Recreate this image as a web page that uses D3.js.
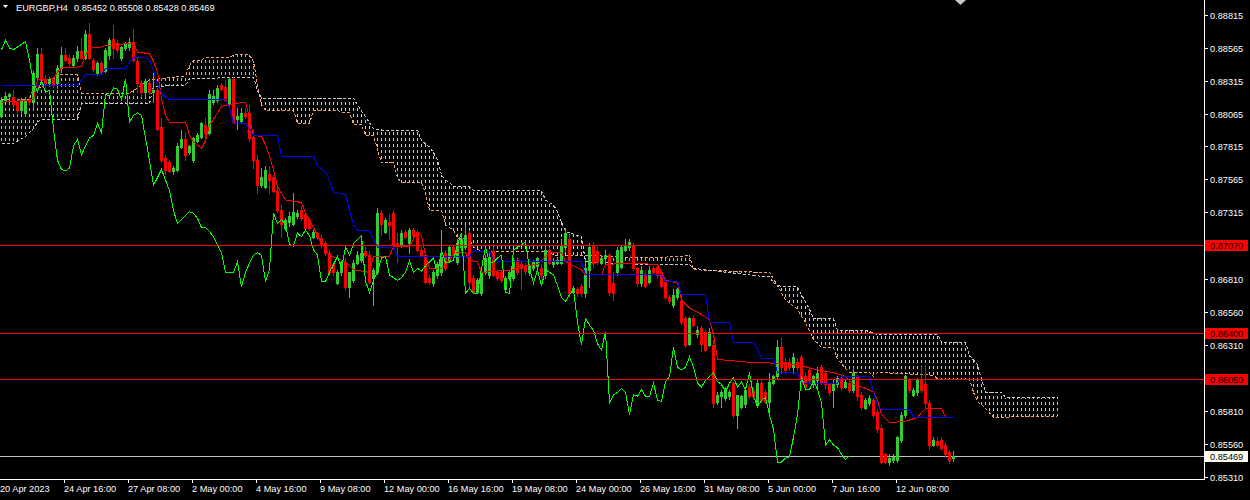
<!DOCTYPE html>
<html><head><meta charset="utf-8">
<script src="https://cdn.jsdelivr.net/npm/d3@7"></script>
<style>
html,body{margin:0;padding:0;background:#000;}
svg{display:block;}
text{font-family:"Liberation Sans",Arial,sans-serif;font-size:9.2px;fill:#ffffff;}
</style></head><body>
<svg id="chart" width="1250" height="500"></svg>
<script>
// ---------- DATA ----------
const symbolTitle = "EURGBP,H4";
const titleValues = ["0.85452", "0.85508", "0.85428", "0.85469"];

const open = [
0.8805,0.8817,0.8820,0.8819,0.8815,0.8809,0.8807,0.8817,0.8815,0.8834,
0.8852,0.8833,0.8830,0.8833,0.8830,0.8841,0.8851,0.8849,0.8843,0.8849,
0.8854,0.8849,0.8867,0.8847,0.8837,0.8845,0.8839,0.8851,0.8863,0.8860,
0.8849,0.8856,0.8857,0.8861,0.8846,0.8830,0.8823,0.8830,0.8823,0.8824,
0.8796,0.8773,0.8770,0.8763,0.8764,0.8781,0.8787,0.8777,0.8771,0.8786,
0.8789,0.8798,0.8792,0.8815,0.8817,0.8828,0.8827,0.8814,0.8833,0.8802,
0.8801,0.8807,0.8807,0.8789,0.8771,0.8752,0.8751,0.8761,0.8758,0.8748,
0.8733,0.8720,0.8724,0.8723,0.8729,0.8733,0.8730,0.8726,0.8713,0.8716,
0.8712,0.8708,0.8701,0.8692,0.8678,0.8686,0.8694,0.8675,0.8680,0.8693,
0.8695,0.8702,0.8699,0.8682,0.8686,0.8731,0.8717,0.8724,0.8731,0.8708,
0.8707,0.8717,0.8708,0.8718,0.8717,0.8703,0.8699,0.8682,0.8678,0.8684,
0.8686,0.8701,0.8695,0.8705,0.8694,0.8705,0.8705,0.8716,0.8682,0.8671,
0.8670,0.8686,0.8684,0.8702,0.8686,0.8686,0.8673,0.8682,0.8682,0.8695,
0.8692,0.8691,0.8686,0.8689,0.8691,0.8689,0.8684,0.8703,0.8692,0.8693,
0.8693,0.8705,0.8711,0.8671,0.8673,0.8676,0.8670,0.8688,0.8707,0.8702,
0.8693,0.8697,0.8699,0.8678,0.8686,0.8690,0.8703,0.8705,0.8707,0.8689,
0.8678,0.8684,0.8679,0.8689,0.8690,0.8686,0.8679,0.8667,0.8661,0.8667,
0.8664,0.8651,0.8632,0.8651,0.8639,0.8644,0.8641,0.8631,0.8631,0.8588,
0.8592,0.8591,0.8592,0.8602,0.8578,0.8584,0.8586,0.8599,0.8597,0.8586,
0.8602,0.8595,0.8588,0.8602,0.8607,0.8629,0.8618,0.8618,0.8614,0.8618,
0.8622,0.8607,0.8612,0.8601,0.8604,0.8614,0.8610,0.8601,0.8597,0.8601,
0.8606,0.8599,0.8602,0.8597,0.8607,0.8593,0.8583,0.8587,0.8589,0.8580,
0.8568,0.8548,0.8542,0.8544,0.8544,0.8559,0.8578,0.8604,0.8593,0.8595,
0.8604,0.8601,0.8587,0.8555,0.8558,0.8559,0.8555,0.8550,0.85452];

const high = [
0.8819,0.8823,0.8822,0.8824,0.8818,0.8818,0.8819,0.8820,0.8839,0.8856,
0.8856,0.8836,0.8834,0.8834,0.8843,0.8857,0.8856,0.8851,0.8851,0.8858,
0.8864,0.8870,0.8875,0.8849,0.8846,0.8846,0.8856,0.8864,0.8874,0.8862,
0.8858,0.8861,0.8864,0.8871,0.8849,0.8832,0.8833,0.8832,0.8839,0.8826,
0.8803,0.8775,0.8771,0.8767,0.8784,0.8794,0.8792,0.8783,0.8789,0.8792,
0.8800,0.8803,0.8824,0.8824,0.8828,0.8830,0.8832,0.8834,0.8834,0.8811,
0.8811,0.8811,0.8813,0.8794,0.8775,0.8765,0.8767,0.8767,0.8760,0.8750,
0.8737,0.8727,0.8732,0.8746,0.8733,0.8736,0.8732,0.8727,0.8718,0.8717,
0.8714,0.8710,0.8703,0.8694,0.8688,0.8695,0.8697,0.8686,0.8695,0.8702,
0.8713,0.8705,0.8702,0.8689,0.8735,0.8733,0.8727,0.8730,0.8733,0.8716,
0.8718,0.8718,0.8720,0.8720,0.8718,0.8705,0.8702,0.8684,0.8688,0.8694,
0.8718,0.8703,0.8707,0.8707,0.8711,0.8712,0.8722,0.8718,0.8684,0.8682,
0.8688,0.8699,0.8702,0.8705,0.8688,0.8688,0.8683,0.8688,0.8697,0.8698,
0.8695,0.8693,0.8692,0.8695,0.8698,0.8692,0.8705,0.8705,0.8697,0.8698,
0.8711,0.8720,0.8714,0.8676,0.8675,0.8677,0.8694,0.8708,0.8709,0.8705,
0.8699,0.8703,0.8701,0.8686,0.8705,0.8707,0.8711,0.8711,0.8708,0.8690,
0.8691,0.8687,0.8691,0.8691,0.8692,0.8688,0.8680,0.8669,0.8673,0.8674,
0.8669,0.8653,0.8652,0.8654,0.8645,0.8645,0.8642,0.8644,0.8635,0.8595,
0.8597,0.8599,0.8597,0.8603,0.8593,0.8593,0.8598,0.8601,0.8598,0.8604,
0.8604,0.8597,0.8610,0.8608,0.8635,0.8636,0.8621,0.8621,0.8625,0.8621,
0.8623,0.8610,0.8614,0.8608,0.8614,0.8616,0.8612,0.8602,0.8604,0.8607,
0.8608,0.8604,0.8604,0.8614,0.8608,0.8595,0.8591,0.8593,0.8591,0.8582,
0.8570,0.8549,0.8548,0.8548,0.8562,0.8580,0.8608,0.8606,0.8598,0.8606,
0.8614,0.8616,0.8589,0.8561,0.8561,0.8561,0.8557,0.8551,0.85508];

const low = [
0.8804,0.8816,0.8817,0.8811,0.8808,0.8806,0.8805,0.8813,0.8811,0.8833,
0.8830,0.8827,0.8828,0.8827,0.8826,0.8838,0.8846,0.8843,0.8842,0.8846,
0.8849,0.8848,0.8848,0.8839,0.8836,0.8837,0.8838,0.8848,0.8849,0.8853,
0.8847,0.8855,0.8855,0.8846,0.8823,0.8820,0.8820,0.8821,0.8815,0.8794,
0.8770,0.8761,0.8762,0.8761,0.8763,0.8780,0.8771,0.8776,0.8770,0.8785,
0.8788,0.8785,0.8791,0.8814,0.8815,0.8824,0.8816,0.8813,0.8799,0.8795,
0.8799,0.8803,0.8786,0.8765,0.8746,0.8751,0.8750,0.8746,0.8747,0.8732,
0.8713,0.8718,0.8721,0.8722,0.8727,0.8726,0.8718,0.8718,0.8712,0.8711,
0.8705,0.8699,0.8684,0.8684,0.8677,0.8684,0.8673,0.8667,0.8679,0.8692,
0.8694,0.8698,0.8678,0.8661,0.8685,0.8714,0.8716,0.8711,0.8705,0.8694,
0.8705,0.8712,0.8701,0.8713,0.8702,0.8698,0.8678,0.8677,0.8676,0.8682,
0.8684,0.8688,0.8694,0.8698,0.8692,0.8703,0.8704,0.8676,0.8670,0.8670,
0.8669,0.8685,0.8682,0.8683,0.8680,0.8679,0.8671,0.8680,0.8680,0.8685,
0.8673,0.8685,0.8684,0.8688,0.8689,0.8682,0.8682,0.8692,0.8690,0.8692,
0.8692,0.8703,0.8667,0.8670,0.8668,0.8668,0.8667,0.8675,0.8690,0.8692,
0.8692,0.8693,0.8669,0.8665,0.8684,0.8689,0.8702,0.8703,0.8688,0.8676,
0.8676,0.8675,0.8678,0.8685,0.8682,0.8675,0.8666,0.8663,0.8660,0.8666,
0.8647,0.8629,0.8631,0.8645,0.8637,0.8626,0.8626,0.8630,0.8584,0.8586,
0.8584,0.8589,0.8590,0.8576,0.8568,0.8583,0.8584,0.8591,0.8591,0.8584,
0.8588,0.8587,0.8578,0.8601,0.8606,0.8610,0.8610,0.8612,0.8610,0.8612,
0.8598,0.8597,0.8603,0.8599,0.8597,0.8601,0.8598,0.8593,0.8584,0.8599,
0.8597,0.8598,0.8595,0.8595,0.8589,0.8582,0.8582,0.8585,0.8576,0.8565,
0.8541,0.8541,0.8540,0.8542,0.8542,0.8557,0.8576,0.8595,0.8592,0.8593,
0.8595,0.8584,0.8552,0.8554,0.8554,0.8551,0.8546,0.8541,0.85428];

const close = [
0.8817,0.8820,0.8821,0.8814,0.8809,0.8816,0.8817,0.8815,0.8837,0.8852,
0.8832,0.8830,0.8833,0.8829,0.8841,0.8851,0.8847,0.8845,0.8849,0.8854,
0.8849,0.8867,0.8849,0.8840,0.8845,0.8838,0.8855,0.8862,0.8856,0.8855,
0.8857,0.8859,0.8861,0.8847,0.8830,0.8823,0.8831,0.8823,0.8824,0.8795,
0.8771,0.8764,0.8763,0.8765,0.8782,0.8787,0.8775,0.8782,0.8788,0.8790,
0.8799,0.8792,0.8821,0.8820,0.8826,0.8825,0.8817,0.8833,0.8800,0.8805,
0.8807,0.8805,0.8788,0.8771,0.8752,0.8758,0.8764,0.8756,0.8748,0.8733,
0.8723,0.8726,0.8729,0.8732,0.8731,0.8727,0.8720,0.8720,0.8717,0.8713,
0.8707,0.8701,0.8686,0.8686,0.8686,0.8694,0.8675,0.8686,0.8693,0.8699,
0.8701,0.8699,0.8679,0.8688,0.8731,0.8723,0.8726,0.8722,0.8707,0.8706,
0.8716,0.8713,0.8718,0.8714,0.8703,0.8699,0.8679,0.8679,0.8686,0.8692,
0.8698,0.8689,0.8705,0.8699,0.8708,0.8711,0.8714,0.8679,0.8671,0.8680,
0.8686,0.8697,0.8698,0.8684,0.8682,0.8680,0.8682,0.8686,0.8695,0.8686,
0.8689,0.8687,0.8691,0.8694,0.8697,0.8684,0.8703,0.8693,0.8694,0.8695,
0.8707,0.8716,0.8670,0.8674,0.8670,0.8670,0.8689,0.8705,0.8693,0.8694,
0.8697,0.8699,0.8671,0.8670,0.8703,0.8705,0.8707,0.8709,0.8689,0.8678,
0.8688,0.8676,0.8688,0.8686,0.8684,0.8676,0.8667,0.8664,0.8669,0.8673,
0.8648,0.8631,0.8651,0.8646,0.8642,0.8632,0.8627,0.8641,0.8587,0.8593,
0.8595,0.8598,0.8595,0.8578,0.8593,0.8592,0.8597,0.8592,0.8592,0.8602,
0.8589,0.8588,0.8603,0.8607,0.8629,0.8614,0.8612,0.8614,0.8622,0.8614,
0.8602,0.8599,0.8604,0.8607,0.8610,0.8603,0.8601,0.8595,0.8602,0.8606,
0.8599,0.8603,0.8597,0.8610,0.8592,0.8584,0.8589,0.8591,0.8578,0.8567,
0.8542,0.8542,0.8545,0.8546,0.8561,0.8578,0.8607,0.8597,0.8597,0.8604,
0.8597,0.8587,0.8555,0.8559,0.8555,0.8553,0.8548,0.8544,0.85469];

// Ichimoku lines: [bar index, price]
const tenkan = [[0,0.8815],[8,0.8817],[9,0.8832],[13,0.8833],[14,0.8838],[15,0.8841],[20,0.8842],[21,0.8851],[22,0.8856],[25,0.8857],[26,0.8858],[33,0.8860],[34,0.8853],[37,0.8852],[38,0.8846],[39,0.8838],[40,0.8818],[41,0.8805],[42,0.8800],[46,0.8800],[47,0.8790],[48,0.8785],[50,0.8780],[51,0.8786],[52,0.8798],[53,0.8802],[55,0.8812],[58,0.8814],[61,0.8815],[62,0.8803],[63,0.8790],[65,0.8789],[66,0.8783],[67,0.8774],[68,0.8764],[69,0.8751],[71,0.8741],[75,0.8739],[76,0.8731],[78,0.8720],[80,0.8708],[82,0.8699],[86,0.8694],[88,0.8688],[92,0.8686],[93,0.8698],[97,0.8698],[98,0.8706],[102,0.8706],[103,0.8711],[104,0.8717],[105,0.8714],[106,0.8699],[107,0.8689],[110,0.8689],[112,0.8695],[113,0.8701],[116,0.8701],[117,0.8695],[119,0.8694],[120,0.8686],[128,0.8688],[129,0.8690],[134,0.8692],[135,0.8695],[137,0.8701],[140,0.8701],[141,0.8694],[145,0.8688],[146,0.8684],[150,0.8684],[151,0.8692],[157,0.8693],[164,0.8692],[165,0.8686],[166,0.8680],[169,0.8678],[170,0.8665],[172,0.8659],[175,0.8654],[177,0.8650],[178,0.8639],[179,0.8620],[186,0.8618],[194,0.8617],[199,0.8616],[204,0.8612],[208,0.8610],[211,0.8607],[213,0.8601],[216,0.8598],[218,0.8595],[219,0.8589],[220,0.8578],[222,0.8572],[226,0.8573],[229,0.8576],[231,0.8583],[235,0.8583],[236,0.8576],[238,0.8576]];

const kijun = [[0,0.8828],[19,0.8828],[20,0.8832],[21,0.8836],[25,0.8836],[26,0.8841],[31,0.8841],[32,0.8845],[33,0.8849],[36,0.8849],[37,0.8847],[38,0.8839],[39,0.8828],[40,0.8822],[41,0.8819],[42,0.8817],[56,0.8817],[57,0.8811],[58,0.8799],[61,0.8799],[62,0.8795],[63,0.8790],[69,0.8790],[70,0.8774],[78,0.8774],[79,0.8767],[81,0.8762],[82,0.8756],[83,0.8747],[86,0.8745],[87,0.8733],[88,0.8722],[89,0.8718],[92,0.8718],[93,0.8711],[94,0.8705],[98,0.8705],[99,0.8698],[117,0.8698],[118,0.8702],[122,0.8702],[123,0.8695],[126,0.8694],[145,0.8694],[146,0.8684],[165,0.8684],[166,0.8679],[169,0.8679],[170,0.8669],[176,0.8669],[177,0.8648],[182,0.8648],[183,0.8633],[188,0.8633],[189,0.8627],[190,0.8621],[193,0.8621],[194,0.8610],[199,0.8610],[200,0.8602],[209,0.8602],[210,0.8607],[217,0.8607],[218,0.8595],[219,0.8585],[220,0.8582],[227,0.8582],[228,0.8576],[238,0.8576]];

const senkouA = [[0,0.8817],[7,0.8817],[8,0.8826],[10,0.8826],[11,0.8832],[13,0.8832],[14,0.8836],[19,0.8836],[20,0.8822],[32,0.8822],[33,0.8824],[35,0.8828],[37,0.8832],[46,0.8835],[47,0.8843],[48,0.8847],[50,0.8847],[51,0.8849],[57,0.8849],[58,0.8851],[62,0.8851],[63,0.8846],[64,0.8828],[65,0.8813],[66,0.8809],[73,0.8809],[74,0.8799],[77,0.8799],[78,0.8809],[84,0.8809],[85,0.8807],[87,0.8807],[88,0.8798],[90,0.8798],[91,0.8790],[93,0.8790],[94,0.8779],[95,0.8769],[98,0.8769],[99,0.8758],[100,0.8754],[105,0.8754],[106,0.8746],[107,0.8733],[110,0.8733],[111,0.8722],[113,0.8718],[114,0.8712],[117,0.8712],[118,0.8705],[120,0.8702],[137,0.8702],[138,0.8699],[145,0.8699],[146,0.8699],[160,0.8697],[170,0.8698],[172,0.8699],[173,0.8688],[190,0.8686],[192,0.8686],[194,0.8676],[196,0.8665],[199,0.8658],[201,0.8648],[203,0.8635],[205,0.8629],[208,0.8629],[209,0.8620],[212,0.8610],[217,0.8610],[218,0.8607],[219,0.8610],[233,0.8608],[234,0.8605],[242,0.8605],[243,0.8595],[244,0.8588],[246,0.8583],[248,0.8576],[264,0.8577]];

const senkouB = [[0,0.8784],[3,0.8784],[6,0.8789],[7,0.8792],[8,0.8795],[9,0.8800],[10,0.8802],[19,0.8802],[20,0.8814],[37,0.8814],[38,0.8827],[46,0.8828],[47,0.8833],[63,0.8834],[64,0.8824],[65,0.8818],[88,0.8818],[89,0.8813],[93,0.8795],[95,0.8794],[104,0.8794],[105,0.8786],[107,0.8781],[108,0.8777],[109,0.8771],[110,0.8760],[111,0.8756],[112,0.8754],[113,0.8751],[117,0.8751],[118,0.8748],[135,0.8748],[136,0.8741],[138,0.8737],[139,0.8732],[140,0.8724],[141,0.8717],[144,0.8714],[145,0.8713],[146,0.8694],[160,0.8692],[172,0.8692],[173,0.8689],[190,0.8683],[192,0.8683],[193,0.8678],[195,0.8675],[199,0.8675],[200,0.8669],[202,0.8658],[203,0.8651],[208,0.8651],[209,0.8642],[216,0.8642],[218,0.8640],[219,0.8639],[234,0.8639],[235,0.8633],[241,0.8633],[242,0.8623],[244,0.8616],[245,0.8605],[246,0.8595],[250,0.8595],[251,0.8591],[264,0.8591]];

const chikouShift = 26;
const levelLines = [0.87070, 0.86400, 0.86050];
const bidPrice = 0.85469;
const priceTicks = [0.88815, 0.88565, 0.88315, 0.88065, 0.87815, 0.87565, 0.87315, 0.86810, 0.86560, 0.86310, 0.85810, 0.85560, 0.85310];
const timeLabels = ["20 Apr 2023","24 Apr 16:00","27 Apr 08:00","2 May 00:00","4 May 16:00","9 May 08:00","12 May 00:00","16 May 16:00","19 May 08:00","24 May 00:00","26 May 16:00","31 May 08:00","5 Jun 00:00","7 Jun 16:00","12 Jun 08:00"];
const timeLabelBars = [0,16,32,48,64,80,96,112,128,144,160,176,192,208,224];

// ---------- DRAW ----------
const plotRight = 1204, plotBottom = 479;
const svg = d3.select("#chart");
svg.append("rect").attr("width",1250).attr("height",500).attr("fill","#000");

const x = d3.scaleLinear().domain([0, 300]).range([1.5, 1201.5]);
const y = d3.scaleLinear().domain([0.85310, 0.88815]).range([476.67, 14.67]);

const defs = svg.append("defs");
defs.append("clipPath").attr("id","plot").append("rect")
  .attr("x",0).attr("y",0).attr("width",plotRight).attr("height",plotBottom);

function hatch(id, color){
  const p = defs.append("pattern").attr("id",id).attr("patternUnits","userSpaceOnUse")
    .attr("x",0).attr("y",0).attr("width",4).attr("height",6);
  p.append("rect").attr("x",1).attr("y",0).attr("width",1).attr("height",3).attr("fill",color);
}
const colA = "#F4A460", colB = "#D8BFD8";
hatch("hatchA", colA); hatch("hatchB", colB);

const lastCloud = senkouA[senkouA.length-1][0];
const xa = d => x(d[0]) + (d[0] === 0 ? -1.5 : (d[0] === lastCloud ? 1.5 : 0));
const areaDown = d3.area().x(xa).y0(d => y(d[1])).y1(plotBottom);
const areaUp = d3.area().x(xa).y0(0).y1(d => y(d[1]));
defs.append("clipPath").attr("id","aboveB").append("path").attr("d", areaUp(senkouB));
defs.append("clipPath").attr("id","aboveA").append("path").attr("d", areaUp(senkouA));

const g = svg.append("g").attr("clip-path","url(#plot)");

// cloud hatching
g.append("g").attr("clip-path","url(#aboveB)").append("path")
  .attr("d", areaDown(senkouA)).attr("fill","url(#hatchA)").attr("shape-rendering","crispEdges");
g.append("g").attr("clip-path","url(#aboveA)").append("path")
  .attr("d", areaDown(senkouB)).attr("fill","url(#hatchB)").attr("shape-rendering","crispEdges");

const line = d3.line().x(d => x(d[0])).y(d => y(d[1]));
g.append("path").attr("d", line(senkouA)).attr("fill","none").attr("stroke",colA)
  .attr("stroke-dasharray","3,2").attr("shape-rendering","crispEdges");
g.append("path").attr("d", line(senkouB)).attr("fill","none").attr("stroke",colB)
  .attr("stroke-dasharray","3,2").attr("shape-rendering","crispEdges");

// bid line
const by = Math.round(y(bidPrice)) + 0.5;
g.append("line").attr("x1",0).attr("x2",plotRight).attr("y1",by).attr("y2",by)
  .attr("stroke","#C0C0C0").attr("shape-rendering","crispEdges");

// candles
const bull = "#32CD32", bear = "#FF0000";
const idx = close.map((c,i) => i);
const cg = g.append("g").attr("shape-rendering","crispEdges");
cg.selectAll("rect.wick").data(idx).join("rect").attr("class","wick")
  .attr("x", i => Math.round(x(i) - 0.5))
  .attr("y", i => Math.round(y(high[i])))
  .attr("width", 1)
  .attr("height", i => Math.round(y(low[i])) - Math.round(y(high[i])) + 1)
  .attr("fill", i => close[i] >= open[i] ? bull : bear);
cg.selectAll("rect.body").data(idx).join("rect").attr("class","body")
  .attr("x", i => Math.round(x(i) - 1.5))
  .attr("y", i => Math.round(y(Math.max(open[i], close[i]))))
  .attr("width", 3)
  .attr("height", i => Math.round(y(Math.min(open[i], close[i]))) - Math.round(y(Math.max(open[i], close[i]))) + 1)
  .attr("fill", i => close[i] >= open[i] ? bull : bear);

// tenkan / kijun / chikou
g.append("path").attr("d", line(tenkan)).attr("fill","none").attr("stroke","#FF0000").attr("shape-rendering","crispEdges");
g.append("path").attr("d", line(kijun)).attr("fill","none").attr("stroke","#0000FF").attr("shape-rendering","crispEdges");
const chikou = close.slice(chikouShift).map((c, k) => [k, c]);
g.append("path").attr("d", line(chikou)).attr("fill","none").attr("stroke","#00FF00").attr("shape-rendering","crispEdges");

// horizontal levels
levelLines.forEach(v => {
  const ly = Math.round(y(v));
  g.append("rect").attr("x",0).attr("width",plotRight).attr("y",ly).attr("height",1)
    .attr("fill","#FF0000").attr("shape-rendering","crispEdges");
});

// axes
const ax = svg.append("g").attr("shape-rendering","crispEdges");
ax.append("line").attr("x1",plotRight+0.5).attr("x2",plotRight+0.5).attr("y1",0).attr("y2",plotBottom+0.5).attr("stroke","#fff");
ax.append("line").attr("x1",0).attr("x2",plotRight+0.5).attr("y1",plotBottom+0.5).attr("y2",plotBottom+0.5).attr("stroke","#fff");

priceTicks.forEach(v => {
  const ty = Math.round(y(v)) + 0.5;
  ax.append("line").attr("x1",plotRight+0.5).attr("x2",plotRight+4).attr("y1",ty).attr("y2",ty).attr("stroke","#fff");
  svg.append("text").attr("x",1210).attr("y",ty+3.5).text(d3.format(".5f")(v));
});

function priceLabel(v, bg, fg){
  const ly = Math.round(y(v));
  svg.append("rect").attr("x",1205).attr("y",ly-5).attr("width",43).attr("height",11).attr("fill",bg);
  svg.append("text").attr("x",1210).attr("y",ly+4).style("fill",fg).text(d3.format(".5f")(v));
}
levelLines.forEach(v => priceLabel(v, "#FF0000", "#000"));
priceLabel(bidPrice, "#FFFFF0", "#000");

timeLabelBars.forEach((b, k) => {
  const tx = Math.round(x(b) - 1.5) + 0.5;
  if (b > 0) ax.append("line").attr("x1",tx).attr("x2",tx).attr("y1",plotBottom+0.5).attr("y2",plotBottom+4).attr("stroke","#fff");
  svg.append("text").attr("x", Math.round(x(b) - 1.5)).attr("y",491.5).text(timeLabels[k]);
});

// title
svg.append("polygon").attr("points","3,5 8,5 5.5,8").attr("fill","#fff");
svg.append("text").attr("x",16).attr("y",10.5).text(symbolTitle);
svg.append("text").attr("x",74).attr("y",10.5).text(titleValues.join(" "));

// chart-shift marker
svg.append("polygon").attr("points","955,0 966,0 960.5,5").attr("fill","#c8c8c8");
</script>
</body></html>
